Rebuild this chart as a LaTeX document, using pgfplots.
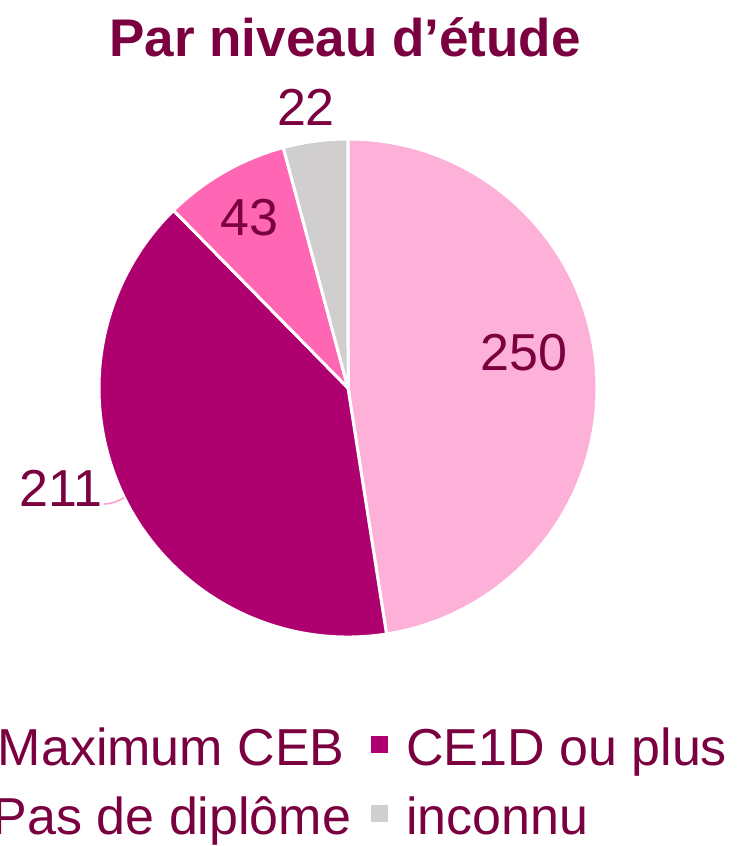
\documentclass[border=0pt]{standalone}
\usepackage{fontspec}
\setmainfont{Liberation Sans}
\usepackage{pgfplots}
\usepackage{pgfplotstable}
\pgfplotsset{compat=1.18}

\definecolor{txt}{HTML}{7A0040}
\definecolor{c1}{HTML}{FDB0D8}
\definecolor{c2}{HTML}{AE006E}
\definecolor{c3}{HTML}{FF66B3}
\definecolor{c4}{HTML}{D0CECF}
\definecolor{lead}{HTML}{FF99CC}
\newcommand\bigf{\fontsize{26pt}{31pt}\selectfont}

% share per education level
\pgfplotstableread{
value
250
211
43
22
}\piedata

\begin{document}
\begin{tikzpicture}
\useasboundingbox (0pt,0pt) rectangle (369pt,-423pt);
\clip (0pt,0pt) rectangle (369pt,-423pt);

\pgfplotstablegetelem{0}{value}\of\piedata \let\va\pgfplotsretval
\pgfplotstablegetelem{1}{value}\of\piedata \let\vb\pgfplotsretval
\pgfplotstablegetelem{2}{value}\of\piedata \let\vc\pgfplotsretval
\pgfplotstablegetelem{3}{value}\of\piedata \let\vd\pgfplotsretval
\pgfmathsetmacro{\tot}{\va+\vb+\vc+\vd}
\pgfmathsetmacro{\aA}{90}
\pgfmathsetmacro{\aB}{\aA-360*(\va/\tot)}
\pgfmathsetmacro{\aC}{\aB-360*(\vb/\tot)}
\pgfmathsetmacro{\aD}{\aC-360*(\vc/\tot)}
\pgfmathsetmacro{\aE}{\aD-360*(\vd/\tot)}

\node[font=\fontsize{26.5pt}{31pt}\selectfont\bfseries, text=txt] at (172.5pt,-18.5pt) {Par niveau d’étude};

\begin{axis}[
    at={(174pt,-194pt)}, anchor=origin,
    x=124.5pt, y=124.5pt,
    xmin=-1.5, xmax=1.5, ymin=-1.5, ymax=1.5,
    hide axis, clip=false,
    legend columns=2,
    legend cell align=left,
    legend image code/.code={\fill[#1, draw=none] (0pt,-2.2pt) rectangle (8.5pt,6.3pt);},
    legend style={at={(axis cs:1.524,-1.365)}, anchor=north east,
        draw=none, fill=none, inner sep=0pt, font=\bigf, text=txt,
        nodes={inner sep=0pt}, row sep=14pt, column sep=9pt,
        /tikz/every even column/.append style={column sep=10pt}},
]
\fill[c1, draw=white, line width=1.5pt] (axis cs:0,0) -- (axis cs:{cos(\aA)},{sin(\aA)}) arc[start angle=\aA, end angle=\aB, radius=124.5pt] -- cycle;
\fill[c2, draw=white, line width=1.5pt] (axis cs:0,0) -- (axis cs:{cos(\aB)},{sin(\aB)}) arc[start angle=\aB, end angle=\aC, radius=124.5pt] -- cycle;
\fill[c3, draw=white, line width=1.5pt] (axis cs:0,0) -- (axis cs:{cos(\aC)},{sin(\aC)}) arc[start angle=\aC, end angle=\aD, radius=124.5pt] -- cycle;
\fill[c4, draw=white, line width=1.5pt] (axis cs:0,0) -- (axis cs:{cos(\aD)},{sin(\aD)}) arc[start angle=\aD, end angle=\aE, radius=124.5pt] -- cycle;

% leader line for the small label on the left
\draw[lead, line width=0.75pt] (axis cs:-0.980,-0.466) to[bend right=15] (axis cs:-0.900,-0.440);

\node[font=\bigf, text=txt] at (axis cs:0.706,0.141) {\va};
\node[font=\bigf, text=txt] at (axis cs:-1.153,-0.403) {\vb};
\node[font=\bigf, text=txt] at (axis cs:-0.395,0.685) {\vc};
\node[font=\bigf, text=txt] at (axis cs:-0.169,1.129) {\vd};

\addlegendimage{fill=c1}
\addlegendentry{\hspace*{2.5pt}Maximum CEB}
\addlegendimage{fill=c2}
\addlegendentry{CE1D ou plus}
\addlegendimage{fill=c3}
\addlegendentry{Pas de diplôme}
\addlegendimage{fill=c4}
\addlegendentry{inconnu}
\end{axis}
\end{tikzpicture}
\end{document}
